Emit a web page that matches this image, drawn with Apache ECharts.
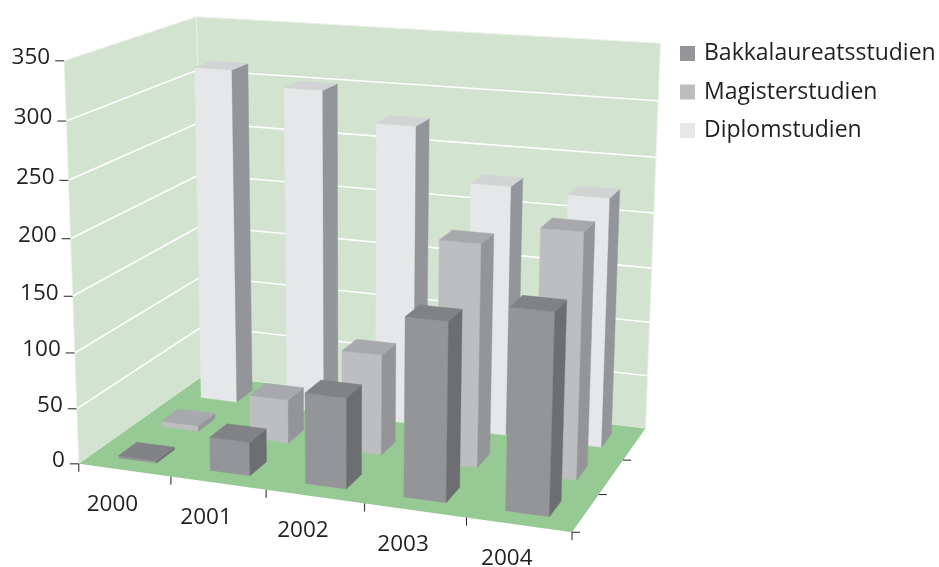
<!DOCTYPE html>
<html>
<head>
<meta charset="utf-8">
<style>html,body{margin:0;padding:0;background:#fff}#c{width:939px;height:567px}</style>
<script src="https://cdn.jsdelivr.net/npm/echarts@6/dist/echarts.min.js"></script>
</head>
<body>
<div id="c"></div>
<script>
// ---- data ----
const years = ['2000', '2001', '2002', '2003', '2004'];
const bakkalaureat = [2, 30, 80, 155, 172];
const magister = [5, 40, 91, 198, 216];
const diplom = [314, 301, 275, 228, 225];
const yTicks = [0, 50, 100, 150, 200, 250, 300, 350];
const depthTicks = [0, 1, 2];

// ---- projection: where the unit box's corners land on the page (X across, Y up, Z back) ----
const anchors = [
  [[0,0,0],[79,463]], [[1,0,0],[573,532]], [[1,0,1],[645,429]], [[0,0,1],[203,376]],
  [[0,1,0],[63,62]],  [[0,1,1],[198,16]],  [[1,1,1],[660,43]]
];
function solveProjection(pts) {
  const rows = [], rhs = [];
  pts.forEach(([p, s]) => {
    const [X, Y, Z] = p, [x, y] = s;
    rows.push([X, Y, Z, 1, 0, 0, 0, 0, -x*X, -x*Y, -x*Z]); rhs.push(x);
    rows.push([0, 0, 0, 0, X, Y, Z, 1, -y*X, -y*Y, -y*Z]); rhs.push(y);
  });
  const n = 11, M = [];
  for (let i = 0; i < n; i++) {
    M.push([]);
    for (let j = 0; j < n; j++) M[i].push(rows.reduce((a, r) => a + r[i]*r[j], 0));
    M[i].push(rows.reduce((a, r, k) => a + r[i]*rhs[k], 0));
  }
  for (let i = 0; i < n; i++) {
    let p = i;
    for (let k = i+1; k < n; k++) if (Math.abs(M[k][i]) > Math.abs(M[p][i])) p = k;
    [M[i], M[p]] = [M[p], M[i]];
    for (let k = 0; k < n; k++) if (k !== i) {
      const f = M[k][i] / M[i][i];
      for (let j = i; j <= n; j++) M[k][j] -= f * M[i][j];
    }
  }
  return M.map((r, i) => r[n] / r[i]);
}
const H = solveProjection(anchors);
function proj(X, Y, Z) {
  const w = H[8]*X + H[9]*Y + H[10]*Z + 1;
  return [(H[0]*X + H[1]*Y + H[2]*Z + H[3]) / w, (H[4]*X + H[5]*Y + H[6]*Z + H[7]) / w];
}
// page position from the hidden axes' scale -> unit box
function toUnit(params, api, cat, val) {
  const c = api.coord([cat, val]), g = params.coordSys;
  return [(c[0] - g.x) / g.width, (g.y + g.height - c[1]) / g.height];
}
const FONT = '22.5px "Open Sans", "Noto Sans", sans-serif';
const INK = '#231f20';
const barRatio = 0.42;
const poly = (points, fill, z2) => ({type: 'polygon', silent: true, z2: z2 || 0, shape: {points}, style: {fill, stroke: fill, lineWidth: 0.4}});
const seg = (a, b, stroke, lineWidth) => ({type: 'line', silent: true, shape: {x1: a[0], y1: a[1], x2: b[0], y2: b[1]}, style: {stroke, lineWidth}});
const label = (text, x, y, align) => ({type: 'text', silent: true, style: {text, x, y, textAlign: align, textVerticalAlign: 'middle', font: FONT, fill: INK}});

function renderWalls() {
  const edge = '#e9f2e7';
  const wall = (pts) => ({type: 'polygon', silent: true, shape: {points: pts}, style: {fill: '#d2e4cf', stroke: edge, lineWidth: 1}});
  return {type: 'group', children: [
    wall([proj(0,0,0), proj(0,1,0), proj(0,1,1), proj(0,0,1)]),
    wall([proj(0,0,1), proj(0,1,1), proj(1,1,1), proj(1,0,1)]),
    {type: 'polygon', silent: true, shape: {points: [proj(0,0,0), proj(1,0,0), proj(1,0,1), proj(0,0,1)]}, style: {fill: '#97c994'}}
  ]};
}
function renderY(params, api) {
  const v = api.value(1), Y = toUnit(params, api, 0, v)[1];
  const a = proj(0, Y, 0), b = proj(0, Y, 1), c = proj(1, Y, 1);
  const kids = [seg([a[0]-9, a[1]], a, INK, 1), label(String(v), a[0]-14, a[1]-3, 'right')];
  if (v > 0 && v < 350) kids.push(seg(a, b, '#fff', 1.6), seg(b, c, '#fff', 1.6));
  return {type: 'group', children: kids};
}
function renderX(params, api) {
  const i = api.value(0), mid = toUnit(params, api, i, 0)[0], half = api.size([1, 0])[0] / params.coordSys.width / 2;
  const right = proj(mid + half, 0, 0), c = proj(mid, 0, 0), kids = [];
  kids.push(seg(right, [right[0], right[1] + 8], INK, 1));
  if (i === 0) { const l = proj(0,0,0); kids.push(seg(l, [l[0], l[1] + 8], INK, 1)); }
  kids.push(label(years[i], c[0] - 12, c[1] + 34, 'center'));
  return {type: 'group', children: kids};
}
function renderDepth(params, api) {
  const d = api.value(1) / 3, p = proj(1, 0, d);
  return seg(p, [p[0] + 8, p[1]], INK, 1);
}
function barRenderer(row, front, side, top) {
  return function (params, api) {
    const i = api.value(0), val = api.value(1);
    const mid = toUnit(params, api, i, 0)[0], cell = api.size([1, 0])[0] / params.coordSys.width;
    const Y = toUnit(params, api, i, val)[1];
    const x0 = mid - cell*barRatio/2, x1 = mid + cell*barRatio/2;
    const z0 = (row + 0.5 - barRatio/2) / 3, z1 = (row + 0.5 + barRatio/2) / 3;
    return {type: 'group', children: [
      poly([proj(x0,0,z0), proj(x1,0,z0), proj(x1,Y,z0), proj(x0,Y,z0)], front),
      poly([proj(x1,0,z0), proj(x1,0,z1), proj(x1,Y,z1), proj(x1,Y,z0)], side),
      poly([proj(x0,Y,z0), proj(x1,Y,z0), proj(x1,Y,z1), proj(x0,Y,z1)], top)
    ]};
  };
}
const pairs = (arr) => arr.map((v, i) => [i, v]);
const chart = echarts.init(document.getElementById('c'), null, {renderer: 'canvas'});
chart.setOption({
  animation: false,
  backgroundColor: '#fff',
  grid: {left: 0, right: 0, top: 0, bottom: 0},
  xAxis: {type: 'category', data: years, show: false},
  yAxis: {type: 'value', min: 0, max: 350, interval: 50, show: false},
  legend: {
    data: ['Bakkalaureatsstudien', 'Magisterstudien', 'Diplomstudien'],
    orient: 'vertical', left: 680, top: 42, padding: 0, icon: 'rect',
    itemWidth: 15, itemHeight: 15, itemGap: 15.5, selectedMode: false,
    textStyle: {fontFamily: '"Open Sans", "Noto Sans", sans-serif', fontSize: 23, color: INK, padding: [0, 0, 0, 4], lineHeight: 23}
  },
  series: [
    {type: 'custom', name: 'walls', silent: true, data: [[0, 0]], renderItem: renderWalls},
    {type: 'custom', name: 'yAxis', silent: true, data: yTicks.map(v => [0, v]), renderItem: renderY},
    {type: 'custom', name: 'xAxis', silent: true, data: pairs(years.map(() => 0)), renderItem: renderX},
    {type: 'custom', name: 'depthAxis', silent: true, data: depthTicks.map(d => [0, d]), renderItem: renderDepth},
    {type: 'custom', name: 'Diplomstudien', data: pairs(diplom), itemStyle: {color: '#e6e7e8'}, renderItem: barRenderer(2, '#e6e7e8', '#939598', '#d1d3d4')},
    {type: 'custom', name: 'Magisterstudien', data: pairs(magister), itemStyle: {color: '#bcbec0'}, renderItem: barRenderer(1, '#bcbec0', '#939598', '#a7a9ac')},
    {type: 'custom', name: 'Bakkalaureatsstudien', data: pairs(bakkalaureat), itemStyle: {color: '#939598'}, renderItem: barRenderer(0, '#939598', '#6d6e71', '#808285')}
  ]
});
</script>
</body>
</html>
